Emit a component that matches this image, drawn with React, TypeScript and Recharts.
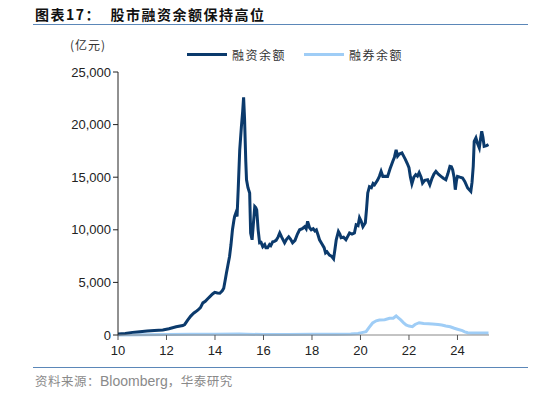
import React from 'react';
import { LineChart, Line, XAxis, YAxis } from 'recharts';

// 融资余额 (亿元), x = 年份后两位 (10 = 2010)
const marginYears = [
  10.0, 10.3, 10.6, 10.9, 11.2, 11.5, 11.85, 12.1, 12.4, 12.67, 12.75, 12.88, 13.0, 13.13, 13.2, 13.3, 13.4, 13.5,
  13.6, 13.7, 13.79, 13.9, 13.99, 14.1, 14.2, 14.3, 14.36, 14.42, 14.47, 14.53, 14.6, 14.66, 14.72, 14.78, 14.81,
  14.86, 14.91, 14.96, 15.02, 15.09, 15.14, 15.18, 15.22, 15.27, 15.3, 15.36, 15.43, 15.47, 15.53, 15.58, 15.64,
  15.68, 15.72, 15.78, 15.84, 15.9, 15.97, 16.05, 16.1, 16.17, 16.25, 16.3, 16.38, 16.45, 16.52, 16.6, 16.67,
  16.75, 16.87, 16.95, 17.04, 17.12, 17.2, 17.3, 17.4, 17.49, 17.6, 17.7, 17.76, 17.82, 17.9, 17.97, 18.05, 18.12,
  18.18, 18.25, 18.31, 18.4, 18.5, 18.56, 18.62, 18.72, 18.8, 18.89, 18.95, 19.0, 19.09, 19.15, 19.2, 19.3, 19.4,
  19.48, 19.55, 19.65, 19.75, 19.82, 19.9, 19.96, 20.03, 20.1, 20.2, 20.25, 20.3, 20.37, 20.45, 20.52, 20.58, 20.7,
  20.78, 20.85, 20.92, 21.0, 21.12, 21.22, 21.33, 21.4, 21.47, 21.53, 21.6, 21.71, 21.78, 21.85, 21.93, 22.0, 22.06,
  22.12, 22.2, 22.28, 22.35, 22.42, 22.5, 22.56, 22.65, 22.77, 22.86, 22.95, 23.03, 23.11, 23.2, 23.32, 23.42,
  23.52, 23.6, 23.69, 23.75, 23.8, 23.86, 23.91, 23.96, 24.0, 24.1, 24.21, 24.3, 24.42, 24.55, 24.6, 24.65, 24.69,
  24.76, 24.82, 24.9, 24.95, 25.0, 25.05, 25.1, 25.2, 25.28,
];
const marginValues = [
  100, 150, 250, 320, 380, 430, 470, 600, 780, 900, 1000, 1430, 1800, 2090, 2200, 2380, 2600, 3050,
  3200, 3450, 3650, 3900, 4060, 4000, 3970, 4200, 4440, 5200, 5870, 6600, 7460, 8600, 10000, 10900, 11270,
  11600, 11270, 14000, 17600, 19840, 21200, 22600, 20500, 16500, 14760, 14000, 13500, 9700, 9050, 10500, 12200,
  12100, 11900, 10000, 8760, 8800, 8400, 8600, 8300, 8300, 8600, 8500, 8860, 8900, 9000, 9300, 9700,
  9300, 8760, 9100, 9330, 9100, 8760, 9000, 9600, 10000, 10100, 10300, 10100, 10800, 10200, 10000, 10100, 9900,
  10000, 9500, 9050, 8700, 8300, 7800, 7900, 7600, 7500, 7240, 8200, 9050, 9840, 9600, 9240, 9300, 9050,
  9400, 9700, 9600, 9700, 10480, 10400, 11140, 10800, 10300, 10670, 12000, 13500, 14100, 14000, 14400, 14280, 14700,
  15080, 15550, 15080, 15100, 15080, 15800, 16500, 16900, 17600, 17000, 17200, 17300, 17000, 16700, 16300, 15900, 15000,
  14380, 15000, 15240, 15100, 15430, 15000, 14440, 14700, 14760, 14280, 14900, 15300, 15550, 15300, 15080, 14900,
  14760, 15300, 16030, 16000, 15710, 15000, 13810, 14700, 15080, 15000, 14920, 14600, 13970, 13650, 14500, 16030, 18410,
  18730, 18250, 17780, 18600, 19360, 18800, 17930, 18000, 18100,
];

// 融券余额 (亿元)
const shortYears = [
  10.0, 11.0, 12.0, 13.0, 14.0, 15.0, 15.3, 16.0, 17.0, 18.0, 19.0, 19.6, 19.9, 20.1, 20.23, 20.35, 20.5, 20.65,
  20.78, 21.0, 21.2, 21.35, 21.47, 21.55, 21.66, 21.78, 21.88, 22.0, 22.14, 22.25, 22.42, 22.6, 22.8, 22.96, 23.2,
  23.35, 23.52, 23.7, 23.87, 24.0, 24.2, 24.3, 24.42, 24.6, 25.0, 25.28,
];
const shortValues = [
  10, 30, 50, 60, 70, 90, 80, 40, 50, 60, 70, 100, 150, 250, 320, 700, 1140, 1350,
  1430, 1450, 1590, 1600, 1810, 1650, 1430, 1150, 950, 850, 790, 1000, 1170, 1100, 1080, 1050, 1000,
  950, 860, 780, 640, 550, 410, 300, 220, 180, 200, 200,
];

const xTicks = [10, 12, 14, 16, 18, 20, 22, 24];
const yTicks = [0, 5000, 10000, 15000, 20000, 25000];

const marginData = marginYears.map((x, i) => ({ x, margin: marginValues[i] }));
const shortData = shortYears.map((x, i) => ({ x, short: shortValues[i] }));

const DARK = '#0b3a6c';
const LIGHT = '#9fcdf6';
const RULE = '#5b87b8';

const cjk = '"Noto Sans CJK SC", sans-serif';
const latin = '"Liberation Sans", Arial, sans-serif';

export default function App() {
  return (
    <div style={{ position: 'relative', width: 534, height: 393, background: '#fff' }}>
      <style>{'body{margin:0}'}</style>
      <div
        style={{
          position: 'absolute', left: 35, top: 4, fontFamily: cjk, fontWeight: 700,
          fontSize: 14, letterSpacing: 1.5, color: '#111', whiteSpace: 'nowrap',
        }}
      >
        图表17：&nbsp;&nbsp;股市融资余额保持高位
      </div>
      <div style={{ position: 'absolute', left: 33, top: 24, width: 495, height: 1, background: RULE }} />
      <div
        style={{
          position: 'absolute', left: 70, top: 36, fontFamily: cjk, fontSize: 12,
          letterSpacing: 1, color: '#333',
        }}
      >
        (亿元)
      </div>
      {/* 图例 */}
      <div
        style={{
          position: 'absolute', left: 187, top: 46, display: 'flex', alignItems: 'center',
          fontFamily: cjk, fontSize: 12, letterSpacing: 1.5, color: '#333', whiteSpace: 'nowrap',
        }}
      >
        <span style={{ width: 40, height: 3, background: DARK, marginRight: 5 }} />
        <span style={{ marginRight: 18 }}>融资余额</span>
        <span style={{ width: 40, height: 3, background: LIGHT, marginRight: 5 }} />
        <span>融券余额</span>
      </div>
      <LineChart
        width={534}
        height={393}
        margin={{ top: 72, right: 45, bottom: 0, left: 0 }}
        style={{ position: 'absolute', left: 0, top: 0 }}
      >
        <XAxis
          dataKey="x"
          type="number"
          domain={[10, 25.3]}
          ticks={xTicks}
          allowDataOverflow
          stroke="#888"
          tickLine={{ stroke: '#555' }}
          tickSize={5}
          tickMargin={6}
          tick={{ fill: '#222', fontSize: 13, fontFamily: latin }}
          height={58}
        />
        <YAxis
          type="number"
          domain={[0, 25000]}
          ticks={yTicks}
          stroke="#222"
          tickSize={5}
          tick={{ fill: '#222', fontSize: 13, fontFamily: latin }}
          tickFormatter={(v: number) => v.toLocaleString('en-US')}
          width={118}
        />
        <Line
          data={shortData}
          dataKey="short"
          name="融券余额"
          stroke={LIGHT}
          strokeWidth={3}
          dot={false}
          isAnimationActive={false}
        />
        <Line
          data={marginData}
          dataKey="margin"
          name="融资余额"
          stroke={DARK}
          strokeWidth={3}
          dot={false}
          isAnimationActive={false}
        />
      </LineChart>
      <div style={{ position: 'absolute', left: 33, top: 367, width: 495, height: 1, background: RULE }} />
      <div
        style={{
          position: 'absolute', left: 35, top: 371, fontSize: 12.5, letterSpacing: 0.5,
          color: '#8a8a8a', fontFamily: cjk, whiteSpace: 'nowrap',
        }}
      >
        资料来源：<span style={{ fontFamily: latin, fontSize: 14, letterSpacing: 0 }}>Bloomberg</span>，华泰研究
      </div>
    </div>
  );
}
